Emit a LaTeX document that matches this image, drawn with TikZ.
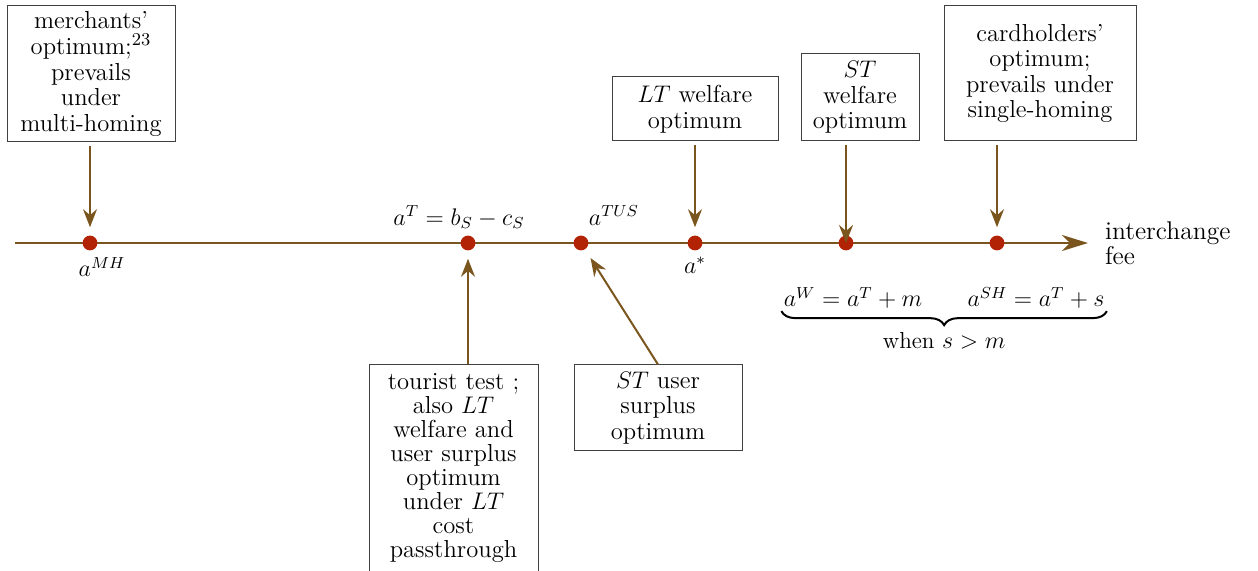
\documentclass[tikz,border=0pt]{standalone}
\usetikzlibrary{arrows.meta,positioning,decorations.pathreplacing}
\definecolor{axisbrown}{RGB}{122,86,30}
\definecolor{dotred}{RGB}{178,34,4}

\begin{document}
\begin{tikzpicture}[x=0.5pt,y=-0.5pt,
	box/.style={draw=black!75,line width=0.5pt,align=center,inner xsep=3pt,inner ysep=2.5pt,font=\fontsize{12.3}{12.8}\selectfont},
	dot/.style={circle,fill=dotred,inner sep=0pt,minimum size=7.4pt},
	axis/.style={axisbrown,line width=1pt,-{Stealth[length=13pt,width=8pt,inset=4pt]}},
	pointer/.style={axisbrown,line width=1pt,-{Stealth[length=9pt,width=7pt,inset=3pt]}},
	lbl/.style={inner sep=1pt,font=\fontsize{11.6}{13}\selectfont},
	brc/.style={decorate,decoration={brace,mirror,amplitude=7pt},line width=1pt}]
	
	\useasboundingbox (0,0) rectangle (1258,571);
	
	\coordinate (axstart) at (15,243);
	\coordinate (axend) at (1088,243);
	\draw[axis] (axstart) -- (axend);
	
	\node[dot] (mh) at (90,243) {};
	\node[dot] (t) at (468,243) {};
	\node[dot] (tus) at (581,243) {};
	\node[dot] (star) at (695,243) {};
	\node[dot] (w) at (846,243) {};
	\node[dot] (sh) at (997,243) {};
	
	\node[box,minimum width=84pt,minimum height=68pt] (merch) at (91,74) {merchants'\\optimum;$^{23}$\\prevails\\under\\multi-homing};
	\node[box,minimum width=83pt,minimum height=32pt] (ltw) at (695,109) {$LT$ welfare\\optimum};
	\node[box,minimum width=59pt,minimum height=43.5pt] (stw) at (860,97.5) {$ST$\\welfare\\optimum};
	\node[box,minimum width=96pt,minimum height=67.5pt] (card) at (1040,73.5) {cardholders'\\optimum;\\prevails under\\single-homing};
	\node[box,minimum width=84.5pt,minimum height=103pt,font=\fontsize{12.3}{12}\selectfont] (tour) at (453.5,468) {tourist test ;\\also $LT$\\welfare and\\user surplus\\optimum\\under $LT$\\cost\\passthrough};
	\node[box,minimum width=84pt,minimum height=43pt] (stu) at (658,408) {$ST$ user\\surplus\\optimum};
	
	\draw[pointer,shorten <=2pt,shorten >=4pt] (merch.south -| mh) -- (mh);
	\draw[pointer,shorten <=2pt,shorten >=4pt] (ltw.south -| star) -- (star);
	\draw[pointer,shorten <=2pt] (stw.south -| w) -- (w.center);
	\draw[pointer,shorten <=2pt,shorten >=4pt] (card.south -| sh) -- (sh);
	\draw[pointer,shorten >=4pt] (tour.north -| t) -- (t);
	\draw[pointer,shorten >=5pt] (stu.north) -- (tus);
	
	\node[lbl,below=2pt of mh,xshift=6pt] (lmh) {$a^{MH}$};
	\node[lbl,above=2pt of t,xshift=-4.5pt] (lt) {$a^T=b_S-c_S$};
	\node[lbl,above right=5pt and 0pt of tus] (ltus) {$a^{TUS}$};
	\node[lbl,below=2pt of star] (lstar) {$a^*$};
	\node[right=5pt of axend,align=left,font=\fontsize{12.8}{11.6}\selectfont] (fee) {interchange\\fee};
	
	% brace under the two right-hand values
	\node[lbl] (aw) at (853,298) {$a^W=a^T+m$};
	\node[lbl] (ash) at (1036,298) {$a^{SH}=a^T+s$};
	\draw[brc] (aw.south west) -- node[lbl,below=9pt] (when) {when $s>m$} (aw.south west -| ash.south east);
	
\end{tikzpicture}
\end{document}
